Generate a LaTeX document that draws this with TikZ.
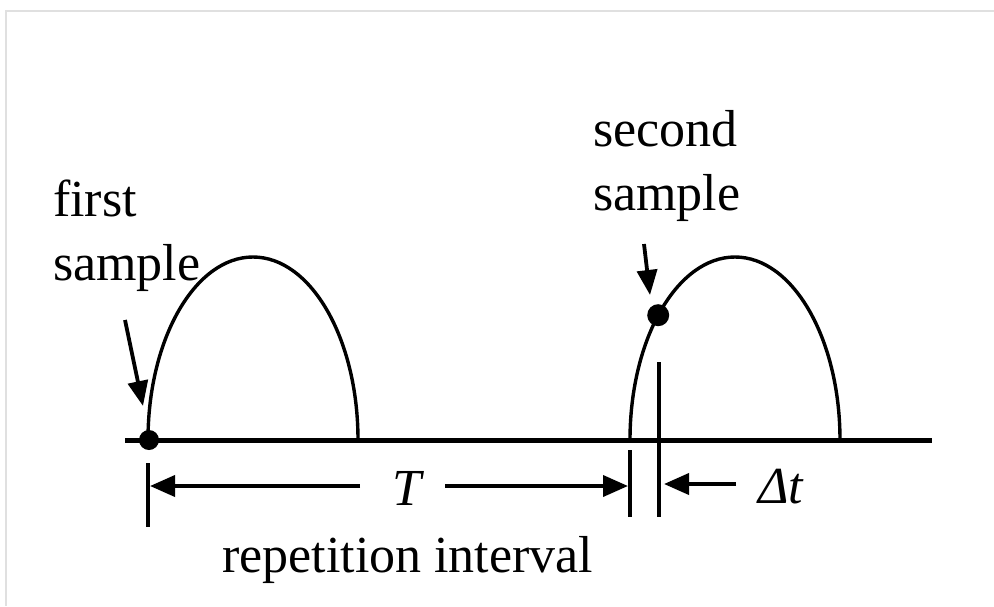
\documentclass[tikz,border=0pt]{standalone}
\usepackage{fontspec}
\setmainfont{Liberation Serif}
\usetikzlibrary{arrows.meta}
\begin{document}
\begin{tikzpicture}[x=1pt,y=-1pt,
  lbl/.style={font=\fontsize{52}{64}\selectfont, inner sep=0pt, align=left},
  arch/.style={line width=3.4pt},
  axisline/.style={line width=5pt},
  tickline/.style={line width=3.8pt},
  dimarrow/.style={line width=3.8pt, -{Triangle[length=25pt,width=21pt]}},
  dot/.style={circle, fill=black, inner sep=0pt, minimum size=#1},
  frameline/.style={draw=black!12, line width=2pt}]
\useasboundingbox (0,0) rectangle (994,606);
\fill[white] (0,0) rectangle (994,606);
% frame
\coordinate (fbl) at (6,606);
\coordinate (ftl) at (6,11);
\coordinate (ftr) at (994,11);
\draw[frameline] (fbl) -- (ftl) -- (ftr);
% axis
\coordinate (axL) at (125,440);
\coordinate (axR) at (932,440);
\draw[axisline] (axL) -- (axR);
% arches
\coordinate (a1s) at (148,440);
\coordinate (a2s) at (630,440);
\draw[arch] (a1s) arc[start angle=180,end angle=360,x radius=105,y radius=183];
\draw[arch] (a2s) arc[start angle=180,end angle=360,x radius=105,y radius=183];
\path (a2s) arc[start angle=180,end angle=223,x radius=105,y radius=183] coordinate (s2pos);
% dots
\node[dot=20pt] (d1) at (149,440) {};
\node[dot=22pt] (d2) at (s2pos) {};
% ticks
\coordinate (tk1a) at (148,463); \coordinate (tk1b) at (148,527);
\coordinate (tk2a) at (630,450); \coordinate (tk2b) at (630,517);
\coordinate (tk3a) at (659,362); \coordinate (tk3b) at (659,517);
\draw[tickline] (tk1a) -- (tk1b);
\draw[tickline] (tk2a) -- (tk2b);
\draw[tickline] (tk3a) -- (tk3b);
% dimension labels
\node[lbl, anchor=base] (T) at (407,505) {\itshape T};
\node[lbl, anchor=base west] (dt) at (758,503) {\itshape Δt};
\coordinate (Tls) at (360,486);
\coordinate (tL) at (150,486);
\coordinate (Trs) at (445,486);
\coordinate (tR) at (628,486);
\coordinate (dts) at (736,484);
\coordinate (dtR) at (664,484);
\draw[dimarrow] (Tls) -- (tL);
\draw[dimarrow] (Trs) -- (tR);
\draw[dimarrow] (dts) -- (dtR);
% text labels
\node[lbl, anchor=north west] (first) at (53,180) {first\\sample};
\node[lbl, anchor=north west] (second) at (593,110) {second\\sample};
\node[lbl, anchor=base west] (rep) at (222,572) {repetition interval};
% sample arrows
\coordinate (fa1) at (125,320); \coordinate (fa2) at (143,406);
\coordinate (sa1) at (644,244); \coordinate (sa2) at (650,295);
\draw[dimarrow, -{Triangle[length=25pt,width=20pt]}] (fa1) -- (fa2);
\draw[dimarrow, -{Triangle[length=25pt,width=20pt]}] (sa1) -- (sa2);
\end{tikzpicture}
\end{document}
